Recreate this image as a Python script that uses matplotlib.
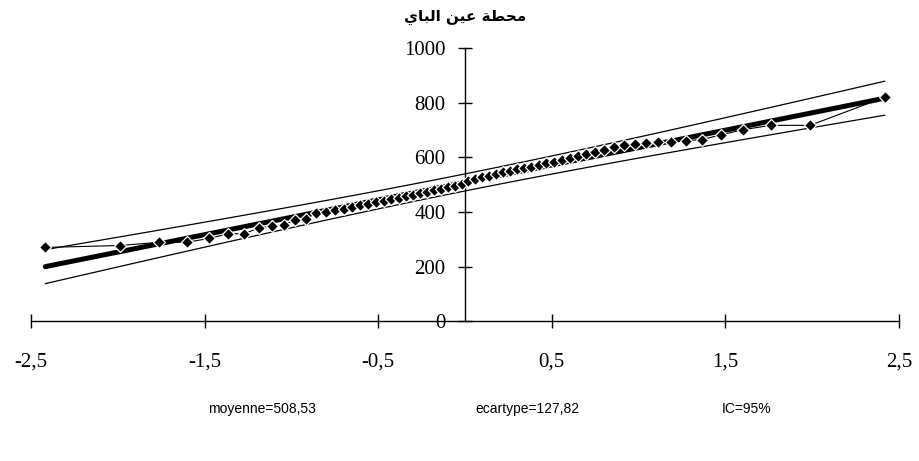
import matplotlib
matplotlib.use("Agg")
import matplotlib.pyplot as plt
from matplotlib.ticker import FuncFormatter
from statistics import NormalDist
import numpy as np

# Sorted observations (normal probability / Henry plot)
values = [270, 277, 289, 289, 303, 320, 320, 341, 348, 353, 371, 375, 395,
          400, 407, 412, 419, 425, 430, 437, 440, 447, 452, 458, 462, 469,
          473, 480, 484, 491, 497, 504, 512, 520, 527, 533, 538, 546, 551,
          556, 562, 566, 573, 578, 584, 590, 597, 604, 612, 620, 626, 640,
          647, 648, 653, 656, 658, 662, 666, 683, 702, 718, 718, 821]
mean_val = 508.53
std_val = 127.82
conf_level = 0.95

title = "محطة عين الباي"
x_ticks = [-2.5, -1.5, -0.5, 0.5, 1.5, 2.5]
y_ticks = [0, 200, 400, 600, 800, 1000]
footer = ["moyenne=508,53", "ecartype=127,82", "IC=95%"]


def shape_arabic(text):
    """Minimal Arabic shaping: contextual presentation forms, visual order."""
    forms = {  # isolated, final, initial, medial
        "ا": ("\uFE8D", "\uFE8E", None, None),
        "ب": ("\uFE8F", "\uFE90", "\uFE91", "\uFE92"),
        "ة": ("\uFE93", "\uFE94", None, None),
        "ح": ("\uFEA1", "\uFEA2", "\uFEA3", "\uFEA4"),
        "ط": ("\uFEC1", "\uFEC2", "\uFEC3", "\uFEC4"),
        "ع": ("\uFEC9", "\uFECA", "\uFECB", "\uFECC"),
        "ل": ("\uFEDD", "\uFEDE", "\uFEDF", "\uFEE0"),
        "م": ("\uFEE1", "\uFEE2", "\uFEE3", "\uFEE4"),
        "ن": ("\uFEE5", "\uFEE6", "\uFEE7", "\uFEE8"),
        "ي": ("\uFEF1", "\uFEF2", "\uFEF3", "\uFEF4"),
    }
    out = []
    for i, ch in enumerate(text):
        if ch not in forms:
            out.append(ch)
            continue
        prev = text[i - 1] if i > 0 else ""
        nxt = text[i + 1] if i + 1 < len(text) else ""
        join_prev = prev in forms and forms[prev][2] is not None
        join_next = nxt in forms and forms[ch][2] is not None
        iso, fin, ini, med = forms[ch]
        if join_prev and join_next:
            out.append(med)
        elif join_prev:
            out.append(fin)
        elif join_next:
            out.append(ini)
        else:
            out.append(iso)
    return "".join(reversed(out))


n = len(values)
nd = NormalDist()
z = np.array([nd.inv_cdf((i - 0.5) / n) for i in range(1, n + 1)])
fit = mean_val + std_val * z
k = nd.inv_cdf(0.5 + conf_level / 2)
half = k * std_val * np.sqrt(1.0 / n + z ** 2 / (2 * (n - 1)))

W, H = 919, 461
fig = plt.figure(figsize=(W / 100, H / 100), dpi=100)
ax = fig.add_axes([31 / W, (H - 321) / H, 868 / W, 272.5 / H])

ax.plot(z, fit + half, color="black", lw=0.9, zorder=2)
ax.plot(z, fit - half, color="black", lw=0.9, zorder=2)
ax.plot(z, fit, color="black", lw=3.6, solid_capstyle="round", zorder=3)
ax.plot(z, values, color="black", lw=0.8, zorder=4)
ax.plot(z, values, linestyle="none", marker="D", ms=6.5, mfc="black",
        mec="white", mew=0.9, zorder=5)

ax.set_xlim(-2.5, 2.5)
ax.set_ylim(0, 1000)
ax.spines["left"].set_position(("data", 0))
ax.spines["bottom"].set_position(("data", 0))
ax.spines["top"].set_visible(False)
ax.spines["right"].set_visible(False)
for s in ("left", "bottom"):
    ax.spines[s].set_linewidth(1.0)

ax.set_xticks(x_ticks)
ax.set_yticks(y_ticks)
fmt = FuncFormatter(lambda v, p: f"{v:g}".replace(".", ","))
ax.xaxis.set_major_formatter(fmt)
ax.yaxis.set_major_formatter(fmt)
ax.tick_params(axis="both", direction="inout", length=10, width=1.0,
               labelsize=15, colors="black")
ax.tick_params(axis="x", pad=18)
ax.tick_params(axis="y", pad=9)
for lab in ax.get_xticklabels() + ax.get_yticklabels():
    lab.set_family("Liberation Serif")

fig.text(465 / W, 1 - 17 / H, shape_arabic(title), ha="center", va="center",
         fontsize=11, fontweight="bold", family="DejaVu Sans")

for xc, txt in zip([262, 527, 747], footer):
    fig.text(xc / W, 1 - 409 / H, txt, ha="center", va="center",
             fontsize=10, family="Liberation Sans")

fig.savefig("out.png", dpi=100)
